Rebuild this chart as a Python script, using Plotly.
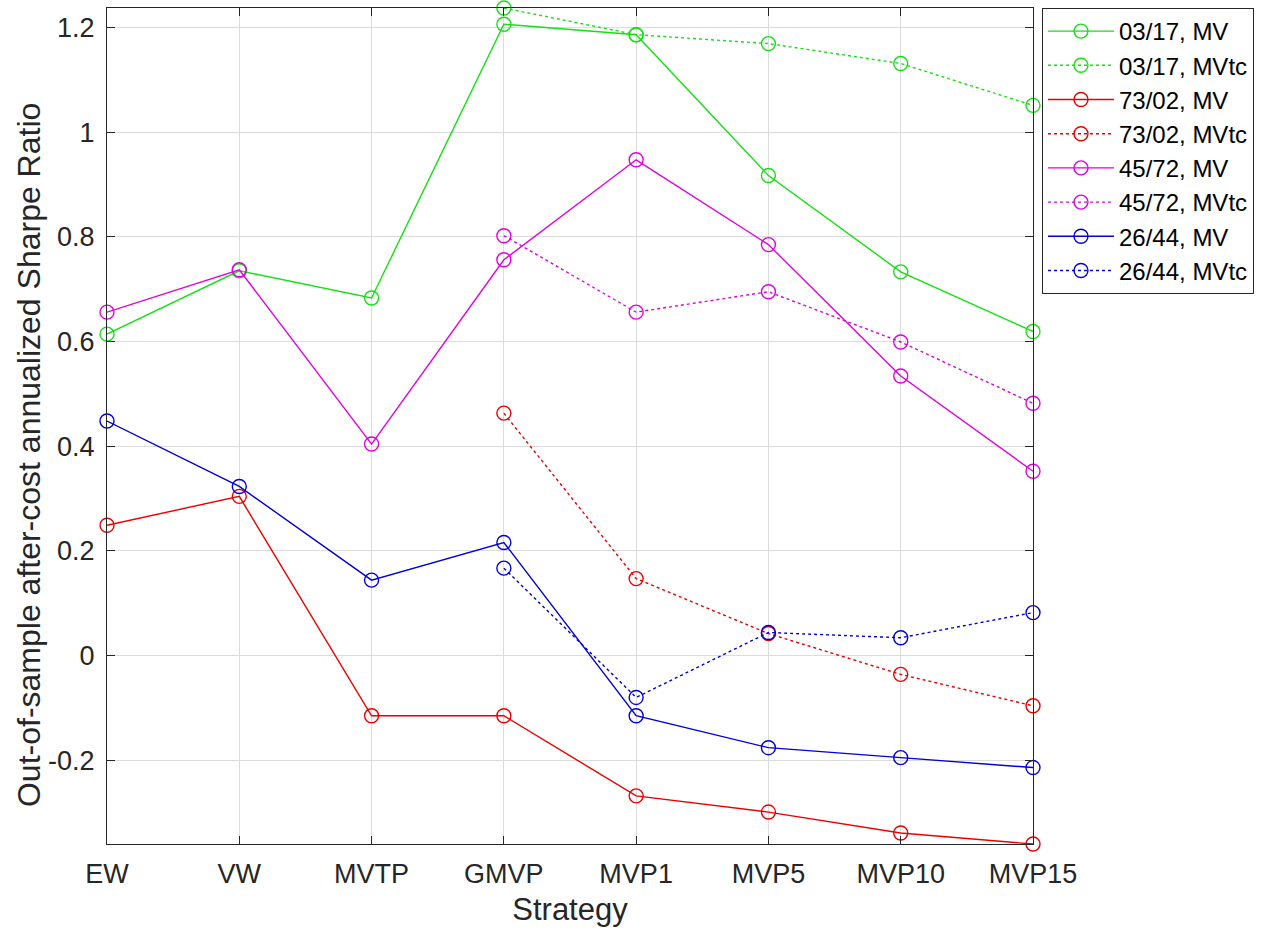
import plotly.graph_objects as go

# Strategies on the x axis
strategies = ["EW", "VW", "MVTP", "GMVP", "MVP1", "MVP5", "MVP10", "MVP15"]
x_pos = list(range(1, len(strategies) + 1))

# Out-of-sample after-cost annualized Sharpe ratios per sample period
s0317_mv = [0.614, 0.735, 0.683, 1.206, 1.186, 0.917, 0.733, 0.619]
s0317_mvtc = [None, None, None, 1.237, 1.186, 1.169, 1.131, 1.051]
s7302_mv = [0.249, 0.304, -0.115, -0.115, -0.268, -0.299, -0.339, -0.360]
s7302_mvtc = [None, None, None, 0.463, 0.147, 0.042, -0.036, -0.096]
s4572_mv = [0.656, 0.737, 0.404, 0.756, 0.947, 0.785, 0.534, 0.352]
s4572_mvtc = [None, None, None, 0.802, 0.656, 0.695, 0.599, 0.482]
s2644_mv = [0.448, 0.323, 0.144, 0.216, -0.115, -0.176, -0.195, -0.214]
s2644_mvtc = [None, None, None, 0.167, -0.080, 0.044, 0.034, 0.082]

y_ticks = [-0.2, 0, 0.2, 0.4, 0.6, 0.8, 1.0, 1.2]
y_tick_text = ["-0.2", "0", "0.2", "0.4", "0.6", "0.8", "1", "1.2"]

series = [
    ("03/17, MV", s0317_mv, "rgb(20,225,20)", "solid"),
    ("03/17, MVtc", s0317_mvtc, "rgb(20,225,20)", "dot"),
    ("73/02, MV", s7302_mv, "rgb(235,0,0)", "solid"),
    ("73/02, MVtc", s7302_mvtc, "rgb(235,0,0)", "dot"),
    ("45/72, MV", s4572_mv, "rgb(225,0,225)", "solid"),
    ("45/72, MVtc", s4572_mvtc, "rgb(225,0,225)", "dot"),
    ("26/44, MV", s2644_mv, "rgb(0,0,215)", "solid"),
    ("26/44, MVtc", s2644_mvtc, "rgb(0,0,215)", "dot"),
]

fig = go.Figure()
for name, vals, color, dash in series:
    fig.add_trace(go.Scatter(
        x=x_pos, y=vals, name=name, mode="lines+markers",
        line=dict(color=color, width=1.4, dash=dash),
        marker=dict(symbol="circle-open", size=14, color=color,
                    line=dict(width=1.4, color=color)),
        cliponaxis=False, connectgaps=False,
    ))

all_vals = [v for _, vals, _, _ in series for v in vals if v is not None]
y_lo, y_hi = min(all_vals), max(all_vals)

font_family = "Liberation Sans, Arial, sans-serif"
axis_color = "#262626"

fig.update_layout(
    width=1266, height=931,
    margin=dict(l=107, r=233, t=8, b=87),
    paper_bgcolor="white", plot_bgcolor="white",
    font=dict(family=font_family, color=axis_color, size=27),
    showlegend=True,
    legend=dict(
        x=1.0097, y=1.0, xanchor="left", yanchor="top",
        bordercolor=axis_color, borderwidth=1, bgcolor="white",
        font=dict(size=24, color="#000000"), tracegroupgap=0,
        itemwidth=66,
    ),
    xaxis=dict(
        range=[1, 8], tickvals=x_pos, ticktext=strategies,
        showgrid=True, gridcolor="#dcdcdc", gridwidth=1,
        showline=True, linecolor=axis_color, linewidth=1.3, mirror="ticks",
        ticks="inside", ticklen=8, tickcolor=axis_color,
        tickfont=dict(size=27), ticklabelstandoff=5, zeroline=False,
        title=dict(text="Strategy", font=dict(size=31), standoff=10),
    ),
    yaxis=dict(
        range=[y_lo, y_hi], tickvals=y_ticks, ticktext=y_tick_text,
        showgrid=True, gridcolor="#dcdcdc", gridwidth=1,
        showline=True, linecolor=axis_color, linewidth=1.3, mirror="ticks",
        ticks="inside", ticklen=8, tickcolor=axis_color,
        tickfont=dict(size=27), ticklabelstandoff=6, zeroline=False,
    ),
    annotations=[dict(
        text="Out-of-sample after-cost annualized Sharpe Ratio",
        xref="paper", yref="paper", x=-0.0842, y=0.4653,
        xanchor="center", yanchor="middle", textangle=-90,
        showarrow=False, font=dict(size=32, color=axis_color),
    )],
)

fig.write_html("out.html")
